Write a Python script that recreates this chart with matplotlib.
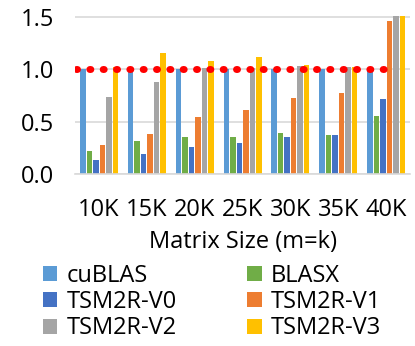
import matplotlib.pyplot as plt
import numpy as np

plt.rcParams.update({'font.family': ['Open Sans', 'DejaVu Sans']})

sizes = ['10K', '15K', '20K', '25K', '30K', '35K', '40K']
series = ['cuBLAS', 'BLASX', 'TSM2R-V0', 'TSM2R-V1', 'TSM2R-V2', 'TSM2R-V3']
colors = ['#5B9BD5', '#70AD47', '#4472C4', '#ED7D31', '#A5A5A5', '#FFC000']

cublas = [1.0, 1.0, 1.0, 1.0, 1.0, 1.0, 1.0]
blasx = [0.22, 0.315, 0.35, 0.35, 0.39, 0.37, 0.55]
v0 = [0.133, 0.188, 0.26, 0.30, 0.35, 0.37, 0.715]
v1 = [0.276, 0.384, 0.54, 0.61, 0.72, 0.77, 1.46]
v2 = [0.73, 0.877, 1.01, 1.01, 1.03, 1.02, 1.51]
v3 = [1.023, 1.15, 1.08, 1.12, 1.04, 1.02, 1.51]
values = [cublas, blasx, v0, v1, v2, v3]

fs = 17

fig = plt.figure(figsize=(4.15, 3.46), dpi=100)
ax = fig.add_axes([0.181, 0.497, 0.807, 0.461])

x = np.arange(len(sizes))
step = 0.136
bars = []
for i, (name, vals, c) in enumerate(zip(series, values, colors)):
    bars.append(ax.bar(x + (i - 2.5) * step, vals, width=0.115, color=c, label=name, zorder=2))

# baseline at 1.0 drawn as round red dots
ax.plot([-0.48, 6.2], [1.0, 1.0], color='#FF0000', lw=5.0,
        linestyle=(0, (0.15, 1.77)), dash_capstyle='round', zorder=3)

ax.set_xlim(-0.5, 6.5)
ax.set_ylim(0, 1.52)
ax.set_yticks([0, 0.5, 1.0, 1.5])
ax.set_yticklabels(['0.0', '0.5', '1.0', '1.5'])
ax.set_xticks(x)
ax.set_xticklabels(sizes)
ax.yaxis.grid(True, color='#D9D9D9', lw=1.2, zorder=0)
ax.set_axisbelow(True)
for s in ['top', 'right', 'left']:
    ax.spines[s].set_visible(False)
ax.spines['bottom'].set_color('#D9D9D9')
ax.spines['bottom'].set_linewidth(1.2)
ax.tick_params(axis='x', length=0, pad=17, labelsize=fs)
ax.tick_params(axis='y', length=0, pad=15, labelsize=fs)
ax.set_xlabel('Matrix Size (m=k)', fontsize=fs, labelpad=6)

# row-wise legend order
order = [0, 2, 4, 1, 3, 5]
fig.legend([bars[i] for i in order], [series[i] for i in order],
           loc='upper left', bbox_to_anchor=(0.08, 0.265), ncol=2, frameon=False,
           fontsize=fs, handlelength=0.6, handleheight=0.6, handletextpad=0.4,
           columnspacing=3.0, labelspacing=0.1, borderaxespad=0)

plt.savefig('out.png', dpi=100)
